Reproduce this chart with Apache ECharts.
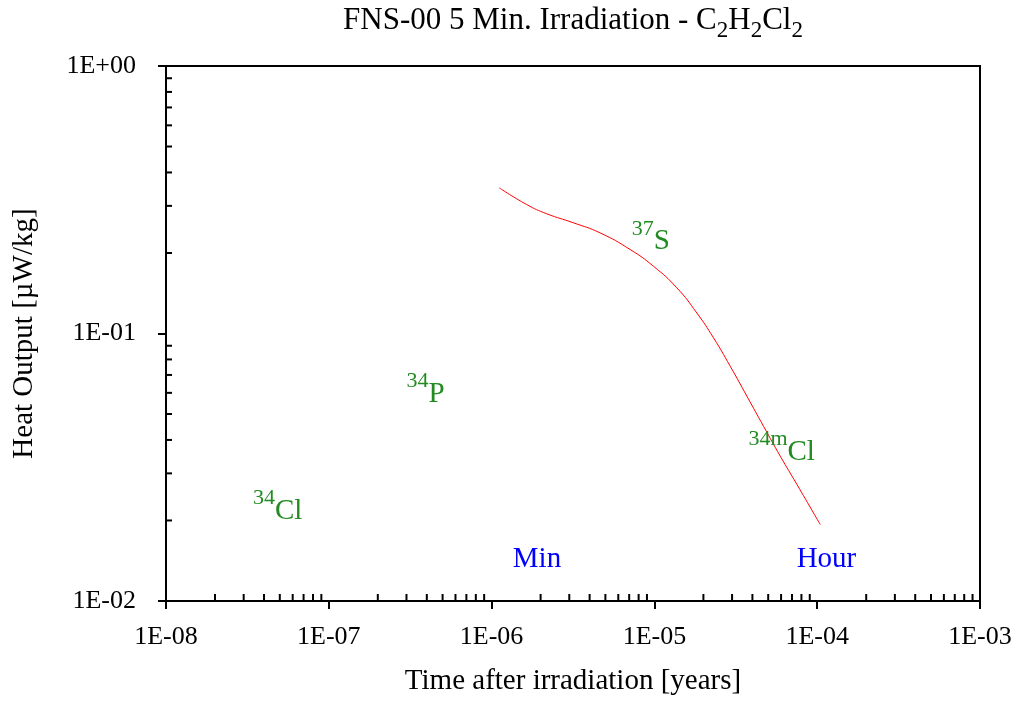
<!DOCTYPE html>
<html>
<head>
<meta charset="utf-8">
<script src="https://cdn.jsdelivr.net/npm/echarts@6/dist/echarts.min.js"></script>
<style>html,body{margin:0;padding:0;background:#fff}#c{width:1020px;height:703px}</style>
</head>
<body>
<div id="c"></div>
<script>
// Curve: heat output vs time (years, µW/kg)
const timeYears = [1.114e-6, 1.642e-6, 2.18e-6, 3.175e-6, 4.63e-6, 7.09e-6, 9.86e-6, 1.373e-5, 1.823e-5, 2.306e-5, 2.921e-5, 3.70e-5, 4.682e-5, 5.93e-5, 7.51e-5, 1.045e-4];
const heatOutput = [0.3505, 0.3035, 0.2803, 0.2594, 0.2379, 0.2061, 0.1785, 0.1482, 0.1193, 0.0964, 0.0755, 0.0583, 0.0450, 0.0348, 0.02726, 0.0193];

// Isotope annotations (anchor at left / vertical centre of label)
const isoSup = ['34', '34', '37', '34m'];
const isoSym = ['Cl', 'P', 'S', 'Cl'];
const isoX = [3.42e-8, 3.0e-7, 7.26e-6, 3.78e-5];
const isoY = [0.02161, 0.05936, 0.2203, 0.03590];

// Time markers
const markNames = ['Min', 'Hour'];
const markX = [1.9e-6, 1.14e-4];
const markY = [0.01429, 0.01429];

// Tick labels
const xTickLabels = ['1E-08', '1E-07', '1E-06', '1E-05', '1E-04', '1E-03'];
const yTickLabels = ['1E-02', '1E-01', '1E+00'];

const FONT = 'Liberation Serif';
const xMinor = [], yMinor = [];
for (let d = -8; d < -3; d++) for (let k = 2; k <= 9; k++) xMinor.push([k * Math.pow(10, d), 0.01]);
for (let d = -2; d < 0; d++) for (let k = 2; k <= 9; k++) yMinor.push([1e-8, k * Math.pow(10, d)]);

const chart = echarts.init(document.getElementById('c'));
const curve = timeYears.map((t, i) => [t, heatOutput[i]]);
const isoData = isoX.map((x, i) => [x, isoY[i], isoSup[i], isoSym[i]]);
const markData = markX.map((x, i) => [x, markY[i], markNames[i]]);

chart.setOption({
  animation: false,
  backgroundColor: '#fff',
  grid: { left: 166, right: 40, top: 66, bottom: 102, show: true, borderColor: '#000', borderWidth: 2 },
  graphic: [{
    type: 'text', x: 573, y: 20.5,
    style: {
      text: '{a|FNS-00 5 Min. Irradiation - C}{b|2}{a|H}{b|2}{a|Cl}{b|2}',
      align: 'center', verticalAlign: 'middle',
      rich: {
        a: { fontFamily: FONT, fontSize: 31, lineHeight: 44, verticalAlign: 'middle', fill: '#000' },
        b: { fontFamily: FONT, fontSize: 23, lineHeight: 44, verticalAlign: 'middle', padding: [20, 0, 0, 0], fill: '#000' }
      }
    }
  }],
  xAxis: {
    type: 'log', logBase: 10, min: 1e-8, max: 1e-3,
    name: 'Time after irradiation [years]', nameLocation: 'middle', nameGap: 66,
    nameTextStyle: { fontFamily: FONT, fontSize: 29, color: '#000' },
    axisLine: { show: true, lineStyle: { color: '#000', width: 2 } },
    axisTick: { show: true, inside: false, length: 8, lineStyle: { color: '#000', width: 2 } },
    splitLine: { show: false },
    minorTick: { show: false },
    axisLabel: {
      fontFamily: FONT, fontSize: 26, color: '#000', margin: 23,
      formatter: v => xTickLabels[Math.round(Math.log10(v)) + 8]
    }
  },
  yAxis: {
    type: 'log', logBase: 10, min: 0.01, max: 1,
    name: 'Heat Output [µW/kg]', nameLocation: 'middle', nameGap: 127,
    nameTextStyle: { fontFamily: FONT, fontSize: 29, color: '#000' },
    axisLine: { show: true, lineStyle: { color: '#000', width: 2 } },
    axisTick: { show: true, inside: false, length: 8, lineStyle: { color: '#000', width: 2 } },
    splitLine: { show: false },
    minorTick: { show: false },
    axisLabel: {
      fontFamily: FONT, fontSize: 26, color: '#000', margin: 30,
      formatter: v => yTickLabels[Math.round(Math.log10(v)) + 2]
    }
  },
  series: [
    {
      type: 'line', data: curve, smooth: 0.5, showSymbol: false, symbol: 'none',
      lineStyle: { color: '#ff0000', width: 1 }, z: 3
    },
    {
      type: 'custom', data: xMinor, silent: true, clip: false, z: 4,
      renderItem: (params, api) => {
        const p = api.coord([api.value(0), api.value(1)]);
        return { type: 'line', shape: { x1: p[0], y1: p[1], x2: p[0], y2: p[1] - 7 }, style: { stroke: '#000', lineWidth: 2 } };
      }
    },
    {
      type: 'custom', data: yMinor, silent: true, clip: false, z: 4,
      renderItem: (params, api) => {
        const p = api.coord([api.value(0), api.value(1)]);
        return { type: 'line', shape: { x1: p[0], y1: p[1], x2: p[0] + 6, y2: p[1] }, style: { stroke: '#000', lineWidth: 2 } };
      }
    },
    {
      type: 'scatter', data: isoData, symbolSize: 0, silent: true, z: 5,
      itemStyle: { opacity: 1 },
      label: {
        show: true, position: [0, 0], align: 'left', verticalAlign: 'middle',
        formatter: p => '{s|' + p.data[2] + '}{m|' + p.data[3] + '}',
        rich: {
          s: { fontFamily: FONT, fontSize: 22, lineHeight: 44, verticalAlign: 'middle', padding: [0, 0, 26, 0], color: '#228B22' },
          m: { fontFamily: FONT, fontSize: 29, lineHeight: 44, verticalAlign: 'middle', color: '#228B22' }
        }
      }
    },
    {
      type: 'scatter', data: markData, symbolSize: 0, silent: true, z: 5,
      itemStyle: { opacity: 1 },
      label: {
        show: true, position: [0, 0], align: 'center', verticalAlign: 'middle',
        formatter: p => p.data[2],
        fontFamily: FONT, fontSize: 29, color: '#0000ff'
      }
    }
  ]
});
</script>
</body>
</html>
